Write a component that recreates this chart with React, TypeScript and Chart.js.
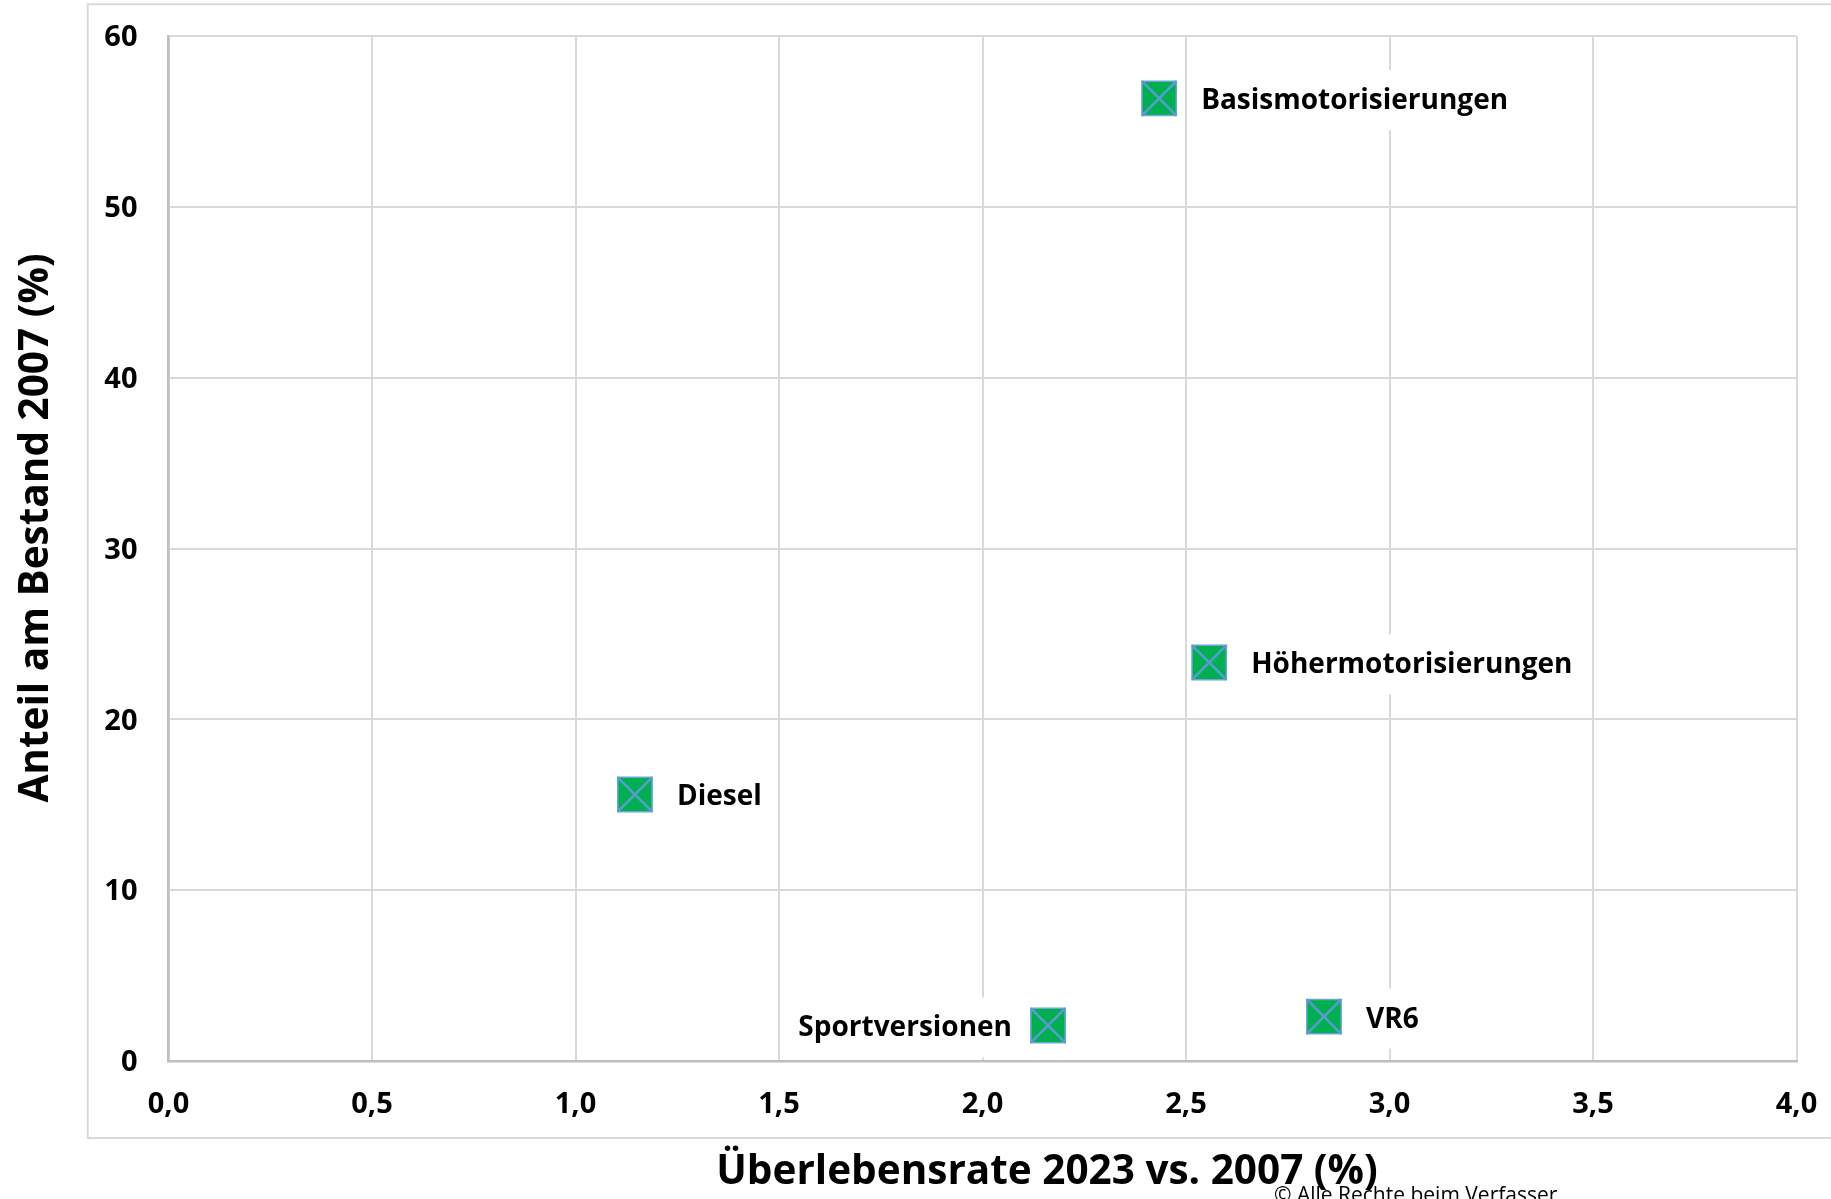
import React, { useEffect, useRef } from 'react';
import { Chart, registerables } from 'chart.js';

Chart.register(...registerables);

// ---- Data ----
const seriesNames = ['Basismotorisierungen', 'Höhermotorisierungen', 'Diesel', 'Sportversionen', 'VR6'];
const survivalRate = [2.434, 2.557, 1.146, 2.161, 2.839];
const shareOfStock = [56.35, 23.33, 15.6, 2.08, 2.6];
const labelSides = ['right', 'right', 'right', 'left', 'right'];
const xAxisTitle = 'Überlebensrate 2023 vs. 2007 (%)';
const yAxisTitle = 'Anteil am Bestand 2007 (%)';
const copyrightText = '© Alle Rechte beim Verfasser';
const xRange = [0, 4];
const yRange = [0, 60];
const xStep = 0.5;
const yStep = 10;

const FONT = '"Open Sans", "Noto Sans", sans-serif';

const frameAndTextPlugin = {
  id: 'frameAndText',
  beforeDraw(chart: any) {
    const { ctx } = chart;
    ctx.save();
    ctx.fillStyle = '#ffffff';
    ctx.fillRect(0, 0, chart.width, chart.height);
    ctx.strokeStyle = '#D9D9D9';
    ctx.lineWidth = 2;
    ctx.strokeRect(87.7, 4.3, chart.width, 1138 - 4.3);
    ctx.restore();
  },
  afterDraw(chart: any) {
    const { ctx } = chart;
    ctx.save();
    ctx.fillStyle = '#000000';
    ctx.font = `bold 40.5px ${FONT}`;
    ctx.textAlign = 'center';
    ctx.textBaseline = 'middle';
    ctx.fillText(xAxisTitle, 1047, 1172.5);
    ctx.save();
    ctx.translate(36.5, 528);
    ctx.rotate(-Math.PI / 2);
    ctx.fillText(yAxisTitle, 0, 0);
    ctx.restore();
    ctx.font = `21px ${FONT}`;
    ctx.textAlign = 'left';
    ctx.textBaseline = 'alphabetic';
    ctx.fillText(copyrightText, 1274, 1202);
    ctx.restore();
  },
};

const pointLabelPlugin = {
  id: 'pointLabels',
  afterDatasetsDraw(chart: any) {
    const { ctx } = chart;
    const xs = chart.scales.x;
    const ys = chart.scales.y;
    ctx.save();
    ctx.font = `bold 28px ${FONT}`;
    ctx.textBaseline = 'middle';
    ctx.textAlign = 'left';
    seriesNames.forEach((name, i) => {
      const px = xs.getPixelForValue(survivalRate[i]);
      const py = ys.getPixelForValue(shareOfStock[i]);
      const w = ctx.measureText(name).width;
      const tx = labelSides[i] === 'left' ? px - 36 - w : px + 42;
      ctx.fillStyle = '#ffffff';
      ctx.fillRect(tx - 8, py - 28, w + 16, 60);
      ctx.fillStyle = '#000000';
      ctx.fillText(name, tx, py + 3);
    });
    ctx.restore();
  },
};

export default function App() {
  const canvasRef = useRef<HTMLCanvasElement | null>(null);

  useEffect(() => {
    if (!canvasRef.current) return;
    const points = survivalRate.map((v, i) => ({ x: v, y: shareOfStock[i] }));
    const chart = new Chart(canvasRef.current, {
      type: 'scatter',
      data: {
        datasets: [
          {
            label: 'Cross',
            data: points,
            pointStyle: 'crossRot',
            pointRadius: 24.3,
            backgroundColor: '#5B9BD5',
            borderColor: '#5B9BD5',
            borderWidth: 2.5,
            showLine: false,
          },
          {
            label: 'Marker',
            data: points,
            pointStyle: 'rect',
            pointRadius: 24.3,
            backgroundColor: '#00B050',
            borderColor: '#6FA3DC',
            borderWidth: 1.5,
            showLine: false,
          },
        ],
      },
      options: {
        responsive: false,
        animation: false,
        devicePixelRatio: 1,
        events: [],
        layout: { autoPadding: false, padding: { left: 0, right: 34.5, top: 36, bottom: 0 } },
        plugins: {
          legend: { display: false },
          tooltip: { enabled: false },
        },
        scales: {
          x: {
            type: 'linear',
            min: xRange[0],
            max: xRange[1],
            afterFit: (s: any) => {
              s.height = 138;
              s.paddingLeft = 0;
              s.paddingRight = 0;
            },
            ticks: {
              stepSize: xStep,
              padding: 26,
              color: '#000000',
              font: { family: FONT, size: 29, weight: 'bold' },
              callback: (v: any) => Number(v).toFixed(1).replace('.', ','),
            },
            grid: { color: '#D9D9D9', lineWidth: 2, drawTicks: false },
            border: { color: '#BFBFBF', width: 2.5 },
          },
          y: {
            type: 'linear',
            min: yRange[0],
            max: yRange[1],
            afterFit: (s: any) => {
              s.width = 168.5;
              s.paddingTop = 0;
              s.paddingBottom = 0;
            },
            ticks: {
              stepSize: yStep,
              padding: 31,
              labelOffset: 2,
              color: '#000000',
              font: { family: FONT, size: 29, weight: 'bold' },
            },
            grid: { color: '#D9D9D9', lineWidth: 2, drawTicks: false },
            border: { color: '#BFBFBF', width: 2.5 },
          },
        },
      },
      plugins: [frameAndTextPlugin, pointLabelPlugin],
    } as any);
    return () => chart.destroy();
  }, []);

  return (
    <div style={{ position: 'fixed', left: 0, top: 0, width: 1831, height: 1199, background: '#fff' }}>
      <canvas ref={canvasRef} width={1831} height={1199} style={{ display: 'block' }} />
    </div>
  );
}
